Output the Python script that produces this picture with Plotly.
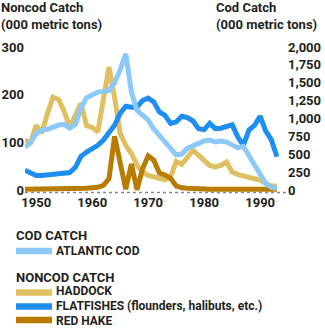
import plotly.graph_objects as go

years = list(range(1948, 1994))

# Atlantic cod catch (000 metric tons) - right axis
cod = [600, 670, 790, 840, 850, 880, 910, 920, 870, 920,
       1150, 1290, 1330, 1370, 1380, 1390, 1500, 1680, 1905, 1375,
       1115, 1045, 980, 855, 765, 685, 585, 495, 505, 587,
       620, 653, 687, 700, 673, 687, 673, 633, 593, 613,
       480, 333, 200, 93, 40, 27]

# Noncod catch (000 metric tons) - left axis
haddock = [105, 100, 136, 120, 160, 195, 190, 165, 132, 157,
           182, 135, 132, 122, 190, 258, 195, 119, 94, 77,
           52, 38, 31, 28, 26, 22, 28, 60, 54, 70,
           84, 73, 63, 52, 49, 52, 59, 38, 33, 29,
           27, 24, 21, 14, 9, 9]

flatfish = [42, 35, 31, 31, 32, 33, 34, 35, 37, 48,
            71, 80, 87, 94, 105, 119, 136, 161, 176, 174,
            174, 188, 193, 185, 164, 157, 140, 143, 155, 152,
            145, 129, 127, 140, 129, 130, 133, 137, 112, 94,
            126, 136, 155, 124, 106, 70]

red_hake = [2, 2, 2, 2, 3, 3, 3, 4, 3, 3,
            4, 4, 5, 6, 10, 24, 113, 62, 2, 55,
            1, 45, 72, 63, 36, 32, 25, 9, 5, 4,
            3, 2, 2, 2, 2, 2, 2, 2, 2, 2,
            2, 2, 2, 2, 2, 2]

left_ticks = [0, 100, 200, 300]
right_ticks = [0, 250, 500, 750, 1000, 1250, 1500, 1750, 2000]
x_ticks = [1950, 1960, 1970, 1980, 1990]

C_COD = "#8cc8f8"
C_HAD = "#dfc060"
C_FLAT = "#1e8ff0"
C_HAKE = "#b87c02"
TXT = "#231f20"
FONT = "Roboto"

W, H = 325, 328
L, R, T, B = 25, 38, 47, 133
pw, ph = W - L - R, H - T - B


def px(x):
    return (x - L) / pw


def py(y):
    return (H - B - y) / ph


fig = go.Figure()
fig.add_trace(go.Scatter(x=years, y=cod, yaxis="y2", mode="lines",
                         line=dict(color=C_COD, width=5), showlegend=False))
fig.add_trace(go.Scatter(x=years, y=haddock, mode="lines",
                         line=dict(color=C_HAD, width=5), showlegend=False))
fig.add_trace(go.Scatter(x=years, y=flatfish, mode="lines",
                         line=dict(color=C_FLAT, width=5), showlegend=False))
fig.add_trace(go.Scatter(x=years, y=red_hake, mode="lines",
                         line=dict(color=C_HAKE, width=5), showlegend=False))

tickfont = dict(family=FONT, size=13, color=TXT, weight="bold")
fig.update_layout(
    width=W, height=H, autosize=False,
    margin=dict(l=L, r=R, t=T, b=B, pad=0),
    paper_bgcolor="white", plot_bgcolor="white",
    xaxis=dict(range=[1948, 1994.8], tickvals=x_ticks, showgrid=False,
               zeroline=False, showline=False, ticks="", tickfont=tickfont,
               automargin=False, ticklabelstandoff=-2),
    yaxis=dict(range=[-10, 300], tickvals=left_ticks, showgrid=False,
               zeroline=False, showline=False, ticks="", tickfont=tickfont,
               automargin=False),
    yaxis2=dict(range=[-10 * 2000 / 300, 2000], tickvals=right_ticks,
                tickformat=",d", overlaying="y", side="right",
                showgrid=False, zeroline=False, showline=False, ticks="",
                tickfont=tickfont, automargin=False),
)

fig.add_shape(type="line", xref="paper", yref="y", x0=0, x1=1, y0=-5, y1=-5,
              line=dict(color="#888", width=1.5, dash="dot"), layer="below")


def ann(text, x, y, size=13):
    fig.add_annotation(text=text, xref="paper", yref="paper", x=px(x), y=py(y),
                       xanchor="left", yanchor="middle", showarrow=False,
                       borderpad=0,
                       font=dict(family=FONT, size=size, color=TXT, weight="bold"))


ann("Noncod Catch", 0, 7)
ann("(000 metric tons)", 0, 25)
ann("Cod Catch", 215, 7)
ann("(000 metric tons)", 215, 25)

ann("COD CATCH", 15, 235)
ann("NONCOD CATCH", 15, 277)
items = [("ATLANTIC COD", C_COD, 251, 251),
         ("HADDOCK", C_HAD, 292.5, 291),
         ("FLATFISHES (flounders, halibuts, etc.)", C_FLAT, 306.5, 305.5),
         ("RED HAKE", C_HAKE, 320, 321.1)]
for label, col, yy, ty in items:
    fig.add_shape(type="line", xref="paper", yref="paper",
                  x0=px(16), x1=px(52), y0=py(yy), y1=py(yy),
                  line=dict(color=col, width=6.5))
    ann(label, 55, ty, size=12)

fig.write_html("out.html")
